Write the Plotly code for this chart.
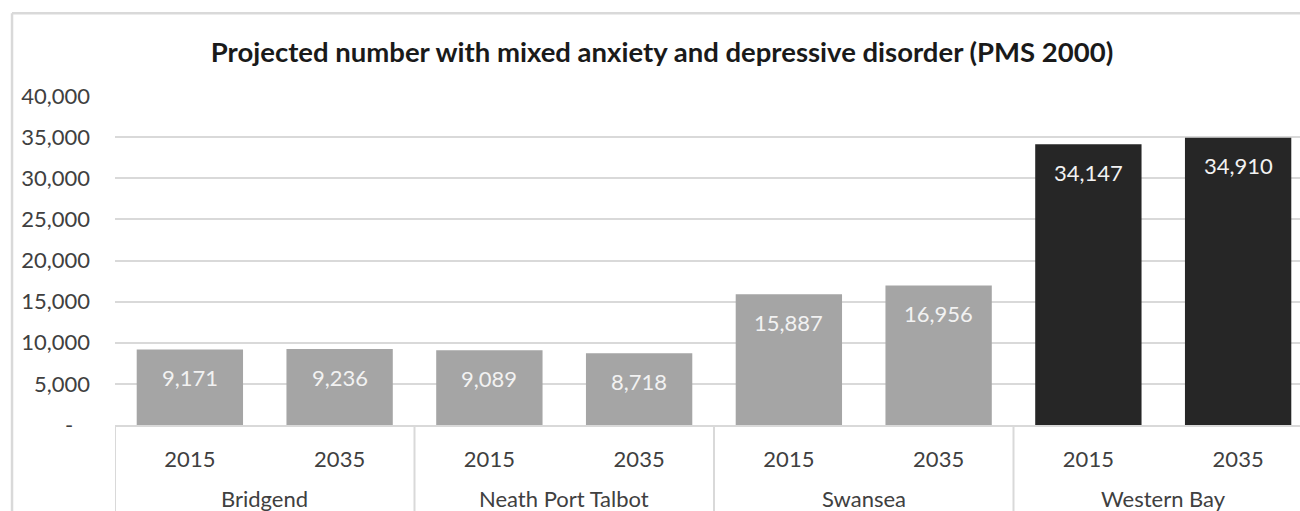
import plotly.graph_objects as go

# Data
areas = ["Bridgend", "Neath Port Talbot", "Swansea", "Western Bay"]
years = ["2015", "2035"]
projected = [9171, 9236, 9089, 8718, 15887, 16956, 34147, 34910]
area_colors = ["#a5a5a5", "#a5a5a5", "#a5a5a5", "#262626"]
y_ticks = [0, 5000, 10000, 15000, 20000, 25000, 30000, 35000, 40000]

FONT = "Lato"
GRID = "#d9d9d9"

n_years = len(years)
xs = list(range(len(projected)))
year_text = [years[i % n_years] for i in xs]
bar_colors = [area_colors[i // n_years] for i in xs]

fig = go.Figure(
    go.Bar(
        x=xs,
        y=projected,
        marker=dict(color=bar_colors, line=dict(width=0)),
        hoverinfo="skip",
    )
)

# Value labels just inside the top of each bar
for x, v in zip(xs, projected):
    fig.add_annotation(
        x=x, y=v, text=f"{v:,}", showarrow=False,
        yanchor="middle", yshift=-28,
        font=dict(family=FONT, size=22, color="#f2f2f2"),
    )

# Area names on the second row of the category axis
for g, name in enumerate(areas):
    fig.add_annotation(
        x=g * n_years + (n_years - 1) / 2, y=-0.222,
        xref="x", yref="paper", text=name, showarrow=False,
        yanchor="middle",
        font=dict(family=FONT, size=22, color="#404040"),
    )

# Group separators below the axis
for g in range(len(areas)):
    xb = g * n_years - 0.5
    fig.add_shape(
        type="line", xref="x", yref="paper",
        x0=xb, x1=xb, y0=0, y1=-0.35,
        line=dict(color=GRID, width=2),
    )

# Chart frame (left and top edges)
fig.add_shape(type="line", xref="paper", yref="paper",
              x0=-0.0869, x1=-0.0869, y0=1.2514, y1=-0.35,
              line=dict(color=GRID, width=2.5))
fig.add_shape(type="line", xref="paper", yref="paper",
              x0=-0.0869, x1=1.1, y0=1.2514, y1=1.2514,
              line=dict(color=GRID, width=2.5))

tick_text = ["-\u00a0\u00a0\u00a0" if t == 0 else f"{t:,}" for t in y_ticks]

fig.update_layout(
    width=1300, height=511,
    margin=dict(l=115, r=0, t=96, b=86, autoexpand=False),
    paper_bgcolor="white", plot_bgcolor="white",
    showlegend=False,
    bargap=0.29,
    title=dict(
        text="<b>Projected number with mixed anxiety and depressive disorder (PMS 2000)</b>",
        x=662 / 1300, xref="container", xanchor="center",
        y=1 - 52.5 / 511, yref="container", yanchor="middle",
        font=dict(family=FONT, size=27.5, color="#1a1a1a"),
    ),
    xaxis=dict(
        range=[-0.5, -0.5 + 1185 / 149.75],
        tickvals=xs, ticktext=year_text,
        showgrid=False, zeroline=False,
        showline=True, linecolor=GRID, linewidth=2,
        ticks="", ticklabelstandoff=14,
        tickfont=dict(family=FONT, size=22, color="#404040"),
        fixedrange=True,
    ),
    yaxis=dict(
        range=[0, 40000],
        tickvals=y_ticks, ticktext=tick_text,
        showgrid=True, gridcolor=GRID, gridwidth=1.7,
        zeroline=False, showline=False,
        ticks="", ticklabelstandoff=24,
        tickfont=dict(family=FONT, size=22, color="#404040"),
        fixedrange=True,
    ),
)

fig.write_html("out.html")
